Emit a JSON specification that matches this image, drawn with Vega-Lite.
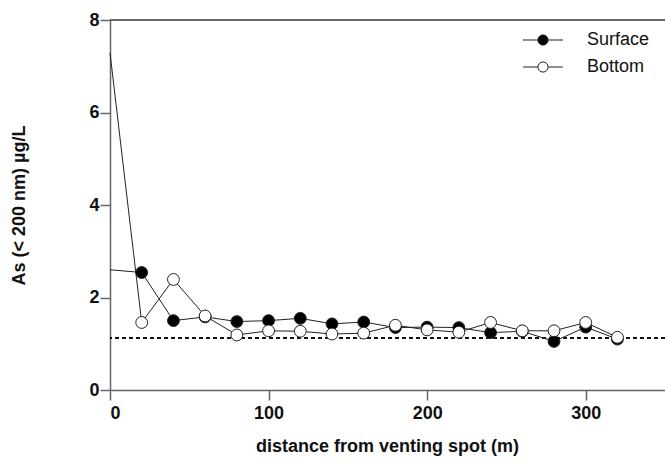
{
  "$schema": "https://vega.github.io/schema/vega-lite/v6.json",
  "width": 555,
  "height": 370,
  "autosize": "none",
  "padding": {"left": 110, "top": 20, "right": 0, "bottom": 74},
  "background": "white",
  "config": {
    "view": {"stroke": null},
    "font": "Liberation Sans",
    "axis": {
      "grid": false,
      "domainColor": "#666",
      "domainWidth": 1.5,
      "tickColor": "#666",
      "tickWidth": 1.5,
      "tickSize": 10,
      "labelFont": "Liberation Sans",
      "labelFontSize": 18,
      "labelFontWeight": "bold",
      "labelColor": "#111",
      "titleFont": "Liberation Sans",
      "titleFontSize": 18,
      "titleFontWeight": "bold",
      "titleColor": "#111"
    }
  },
  "data": {
    "values": [
      {"x": 0, "y": 2.6, "series": "Surface"},
      {"x": 20, "y": 2.54, "series": "Surface"},
      {"x": 40, "y": 1.5, "series": "Surface"},
      {"x": 60, "y": 1.58, "series": "Surface"},
      {"x": 80, "y": 1.48, "series": "Surface"},
      {"x": 100, "y": 1.5, "series": "Surface"},
      {"x": 120, "y": 1.55, "series": "Surface"},
      {"x": 140, "y": 1.43, "series": "Surface"},
      {"x": 160, "y": 1.47, "series": "Surface"},
      {"x": 180, "y": 1.35, "series": "Surface"},
      {"x": 200, "y": 1.36, "series": "Surface"},
      {"x": 220, "y": 1.35, "series": "Surface"},
      {"x": 240, "y": 1.24, "series": "Surface"},
      {"x": 260, "y": 1.27, "series": "Surface"},
      {"x": 280, "y": 1.05, "series": "Surface"},
      {"x": 300, "y": 1.36, "series": "Surface"},
      {"x": 320, "y": 1.1, "series": "Surface"},
      {"x": 0, "y": 7.29, "series": "Bottom"},
      {"x": 20, "y": 1.46, "series": "Bottom"},
      {"x": 40, "y": 2.39, "series": "Bottom"},
      {"x": 60, "y": 1.6, "series": "Bottom"},
      {"x": 80, "y": 1.19, "series": "Bottom"},
      {"x": 100, "y": 1.28, "series": "Bottom"},
      {"x": 120, "y": 1.27, "series": "Bottom"},
      {"x": 140, "y": 1.21, "series": "Bottom"},
      {"x": 160, "y": 1.23, "series": "Bottom"},
      {"x": 180, "y": 1.4, "series": "Bottom"},
      {"x": 200, "y": 1.3, "series": "Bottom"},
      {"x": 220, "y": 1.25, "series": "Bottom"},
      {"x": 240, "y": 1.46, "series": "Bottom"},
      {"x": 260, "y": 1.28, "series": "Bottom"},
      {"x": 280, "y": 1.28, "series": "Bottom"},
      {"x": 300, "y": 1.46, "series": "Bottom"},
      {"x": 320, "y": 1.14, "series": "Bottom"}
    ]
  },
  "encoding": {
    "x": {
      "field": "x",
      "type": "quantitative",
      "scale": {"domain": [0, 350], "nice": false},
      "axis": {
        "values": [0, 100, 200, 300],
        "labelPadding": 4,
        "title": "distance from venting spot (m)",
        "titleX": 277,
        "titleY": 56,
        "titleBaseline": "middle",
        "titleAlign": "center"
      }
    },
    "y": {
      "field": "y",
      "type": "quantitative",
      "scale": {"domain": [0, 8], "nice": false},
      "axis": {
        "values": [0, 2, 4, 6, 8],
        "labelPadding": 1,
        "title": "As (< 200 nm) µg/L",
        "titleX": -91,
        "titleY": 185,
        "titleAngle": -90,
        "titleBaseline": "middle",
        "titleAlign": "center"
      }
    }
  },
  "layer": [
    {
      "mark": {"type": "rule", "color": "#666", "strokeWidth": 1.5},
      "encoding": {"y": {"datum": 8}, "x": null}
    },
    {
      "mark": {"type": "rule", "color": "#111", "strokeWidth": 1, "strokeDash": [4, 3]},
      "encoding": {"y": {"datum": 1.12}, "x": null}
    },
    {
      "mark": {"type": "line", "color": "#222", "strokeWidth": 1},
      "encoding": {"detail": {"field": "series"}}
    },
    {
      "transform": [{"filter": "datum.x > 0"}],
      "mark": {"type": "point", "shape": "circle", "filled": true, "size": 140, "stroke": "#222", "strokeWidth": 1, "opacity": 1},
      "encoding": {
        "fill": {
          "field": "series",
          "type": "nominal",
          "scale": {"domain": ["Surface", "Bottom"], "range": ["#000000", "#ffffff"]},
          "legend": {
            "title": null,
            "orient": "none",
            "legendX": 424,
            "legendY": 11,
            "padding": 0,
            "symbolType": "M-3.33,0L-0.85,0M0.85,0L3.33,0M0.85,0A0.85,0.85 0 1,1 -0.85,0A0.85,0.85 0 1,1 0.85,0Z",
            "symbolSize": 144,
            "symbolStrokeColor": "#222",
            "symbolStrokeWidth": 1,
            "labelOffset": 35,
            "rowPadding": 9,
            "labelFont": "Liberation Sans",
            "labelFontSize": 18,
            "labelColor": "#111",
            "labelFontWeight": "normal"
          }
        }
      }
    }
  ]
}
